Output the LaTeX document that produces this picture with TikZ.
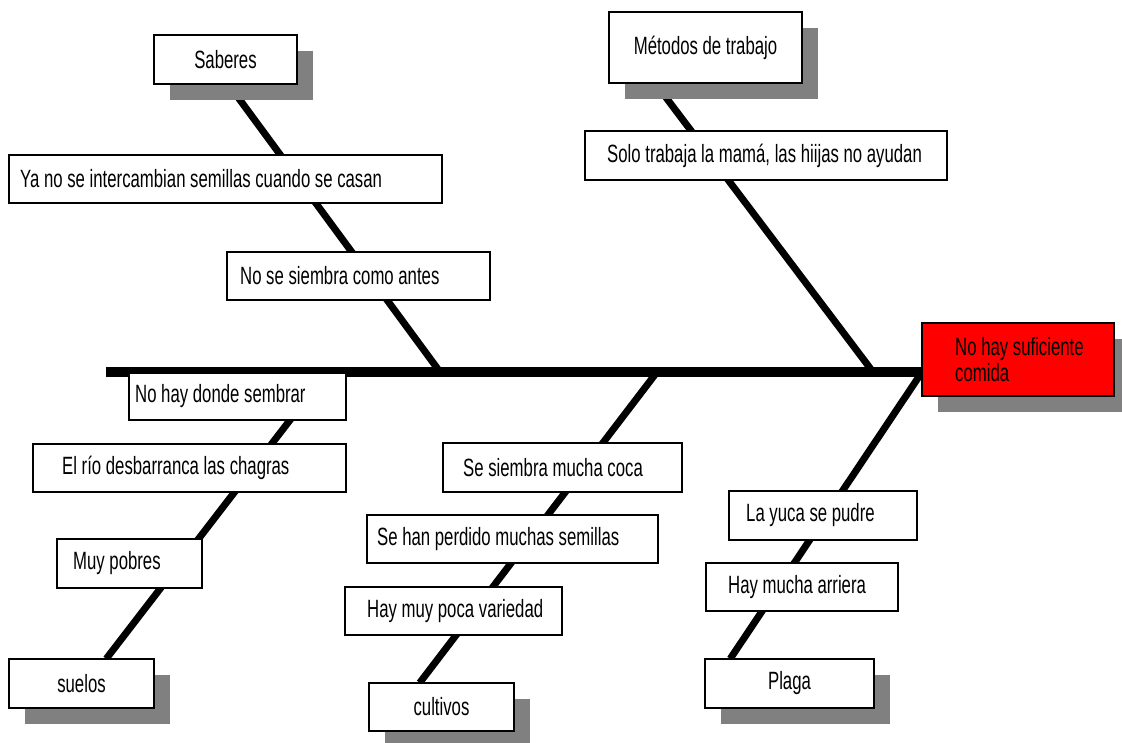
\documentclass[tikz,border=0pt]{standalone}
\usepackage{fontspec}
\setmainfont{Liberation Sans}[FakeStretch=0.67]
\usetikzlibrary{shadows,calc}
\definecolor{shadowgray}{HTML}{808080}
\definecolor{causered}{HTML}{FF0000}
\tikzset{
  box/.style={draw=black, line width=1.5pt, fill=white, inner sep=0pt, font=\fnt},
  shbox/.style={box, general shadow={fill=shadowgray, shadow xshift=16pt, shadow yshift=-16pt}},
  lbl/.style={anchor=west, inner sep=0pt, font=\fnt},
  spine/.style={line width=10pt},
  bone/.style={line width=7pt}
}
\newcommand\fnt{\fontsize{25}{26}\selectfont}
\begin{document}
\begin{tikzpicture}[x=1pt, y=-1pt]
\useasboundingbox (0,0) rectangle (1122,742);
% spine coordinates
\coordinate (tail) at (106,372);
\coordinate (head) at (922,372);
\coordinate (s1) at (440,372);
\coordinate (s2) at (873,372);
\coordinate (s3) at (327,372);
\coordinate (s4) at (657,372);
% placeholders for category boxes (used as bone end points)
\path (225.5,59.5) node[minimum width=143pt, minimum height=49pt, inner sep=0pt] (saberes) {};
\path (705.5,47.5) node[minimum width=193pt, minimum height=71pt, inner sep=0pt] (metodos) {};
\path (81.5,683.5) node[minimum width=145pt, minimum height=49pt, inner sep=0pt] (suelos) {};
\path (441.5,707) node[minimum width=145pt, minimum height=48pt, inner sep=0pt] (cultivos) {};
\path (789.5,683.5) node[minimum width=169pt, minimum height=49pt, inner sep=0pt] (plaga) {};
% spine and bones
\draw[spine] (tail) -- (head);
\draw[bone] ($(saberes.south west)!0.52!(saberes.south east)$) -- (s1);
\draw[bone] ($(metodos.south west)!0.24!(metodos.south east)$) -- (s2);
\draw[bone] (s3) -- ($(suelos.north west)!0.67!(suelos.north east)$);
\draw[bone] (s4) -- ($(cultivos.north west)!0.35!(cultivos.north east)$);
\draw[bone] (head) -- ($(plaga.north west)!0.15!(plaga.north east)$);
% shadowed category boxes
\node[shbox, minimum width=143pt, minimum height=49pt] (saberesB) at (saberes) {Saberes};
\node[shbox, minimum width=193pt, minimum height=71pt] (metodosB) at (metodos) {Métodos de trabajo};
\node[shbox, minimum width=145pt, minimum height=49pt] (suelosB) at (suelos) {suelos};
\node[shbox, minimum width=145pt, minimum height=48pt] (cultivosB) at (cultivos) {cultivos};
\node[shbox, minimum width=169pt, minimum height=49pt] (plagaB) at (plaga) {Plaga};
\node[shbox, fill=causered, minimum width=192pt, minimum height=73pt] (efecto) at (1018,359.5) {};
\node[lbl, align=left] (tefecto) at (955,359.5) {No hay suficiente\\comida};
% cause boxes
\node[box, minimum width=433pt, minimum height=48pt] (ya) at (225.5,179) {};
\node[lbl] (tya) at (20,179) {Ya no se intercambian semillas cuando se casan};
\node[box, minimum width=263pt, minimum height=48pt] (nosiembra) at (358.5,276) {};
\node[lbl] (tnosiembra) at (240,276) {No se siembra como antes};
\node[box, minimum width=362pt, minimum height=49pt] (solo) at (766,155.5) {};
\node[lbl] (tsolo) at (607,155.5) {Solo trabaja la mamá, las hiijas no ayudan};
\node[box, minimum width=217pt, minimum height=47pt] (nohay) at (237.5,396.5) {};
\node[lbl] (tnohay) at (135,396.5) {No hay donde sembrar};
\node[box, minimum width=313pt, minimum height=48pt] (rio) at (189.5,468) {};
\node[lbl] (trio) at (62,468) {El río desbarranca las chagras};
\node[box, minimum width=145pt, minimum height=49pt] (muy) at (129.5,563.5) {};
\node[lbl] (tmuy) at (73,563.5) {Muy pobres};
\node[box, minimum width=239pt, minimum height=49pt] (coca) at (562.5,467.5) {};
\node[lbl] (tcoca) at (463,467.5) {Se siembra mucha coca};
\node[box, minimum width=291pt, minimum height=48pt] (perdido) at (512.5,539) {};
\node[lbl] (tperdido) at (377,539) {Se han perdido muchas semillas};
\node[box, minimum width=217pt, minimum height=48pt] (variedad) at (453.5,611) {};
\node[lbl] (tvariedad) at (367,611) {Hay muy poca variedad};
\node[box, minimum width=188pt, minimum height=49pt] (yuca) at (823,515.5) {};
\node[lbl] (tyuca) at (746,515.5) {La yuca se pudre};
\node[box, minimum width=192pt, minimum height=48pt] (arriera) at (802,587) {};
\node[lbl] (tarriera) at (728,587) {Hay mucha arriera};
\end{tikzpicture}
\end{document}
